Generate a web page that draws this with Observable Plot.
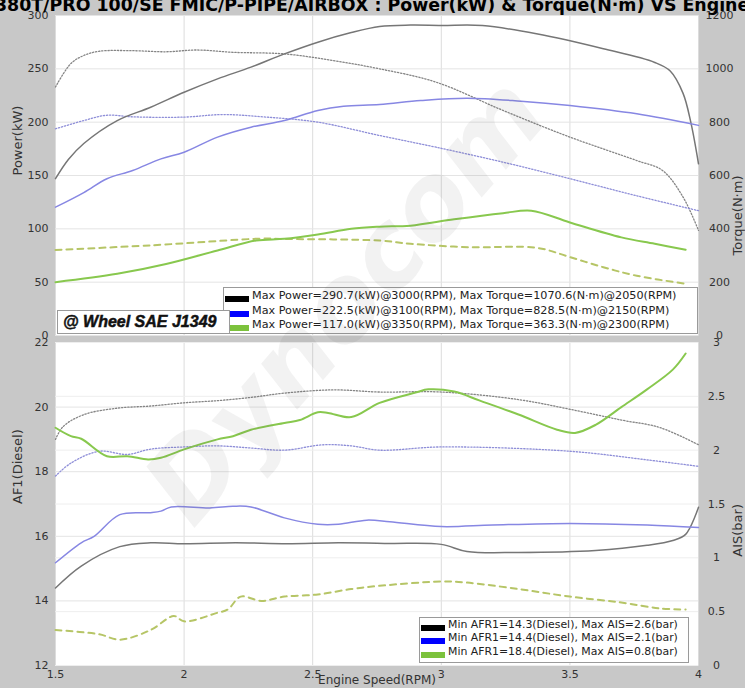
<!DOCTYPE html>
<html><head><meta charset="utf-8">
<script src="https://cdn.jsdelivr.net/npm/d3@7"></script>
<script src="https://cdn.jsdelivr.net/npm/@observablehq/plot@0.6"></script>
<style>
html,body{margin:0;padding:0;background:#c8c8c8;}
#wrap{position:relative;width:745px;height:688px;overflow:hidden;background:#c8c8c8;font-family:"DejaVu Sans",sans-serif;}
#title{position:absolute;left:-5px;top:-5px;white-space:nowrap;font-weight:bold;font-size:17.4px;line-height:20px;color:#000;}
#top{position:absolute;left:0;top:0;}
#bot{position:absolute;left:0;top:340px;}
.box{position:absolute;background:#fff;border:1px solid #9a9a9a;box-sizing:border-box;}
.row{position:absolute;white-space:nowrap;color:#222;}
.sw{position:absolute;}
#wm{position:absolute;left:345px;top:300px;transform:translate(-50%,-50%) rotate(-49deg);font-family:"DejaVu Sans";font-weight:bold;font-style:italic;font-size:105px;color:rgba(90,90,90,0.08);white-space:nowrap;pointer-events:none;}
</style></head>
<body>
<div id="wrap">
  <div id="top"></div>
  <div id="bot"></div>
  <div id="title"></div>
  <div id="wm">Dynocom</div>
</div>
<script>
// ---------- ticks ----------
const rpmTicks = [1.5, 2, 2.5, 3, 3.5, 4];
const powerTicks = [0, 50, 100, 150, 200, 250, 300];
const torqueTicks = [0, 200, 400, 600, 800, 1000, 1200];
const afrTicks = [12, 14, 16, 18, 20, 22];
const aisTicks = [0, 0.5, 1, 1.5, 2, 2.5, 3];

// ---------- texts ----------
const titleText = "380T/PRO 100/SE FMIC/P-PIPE/AIRBOX : Power(kW) & Torque(N·m) VS Engine Speed(RPM)";
const topLegend = [
  "Max Power=290.7(kW)@3000(RPM), Max Torque=1070.6(N·m)@2050(RPM)",
  "Max Power=222.5(kW)@3100(RPM), Max Torque=828.5(N·m)@2150(RPM)",
  "Max Power=117.0(kW)@3350(RPM), Max Torque=363.3(N·m)@2300(RPM)"
];
const botLegend = [
  "Min AFR1=14.3(Diesel), Max AIS=2.6(bar)",
  "Min AFR1=14.4(Diesel), Max AIS=2.1(bar)",
  "Min AFR1=18.4(Diesel), Max AIS=0.8(bar)"
];
const legendColors = ["#000000", "#0000ff", "#7cc23c"];
const stampText = "@ Wheel SAE J1349";

// ---------- top panel: power (kW) & torque (N·m), rpm in thousands ----------
const blkPowerRpm = [1.5,1.55,1.61,1.74,1.87,2.0,2.13,2.26,2.39,2.52,2.65,2.76,2.88,3.0,3.16,3.37,3.63,3.83,3.89,3.94,3.97,4.0];
const blkPowerKW  = [147,165,180,201.5,214,228,240.6,251.6,264,275,284,289.7,291,290.7,290.6,282.8,268.8,256,248,227,200,161];
const blkTorqueRpm = [1.5,1.56,1.61,1.67,1.8,1.93,2.05,2.19,2.39,2.58,2.76,2.98,3.24,3.5,3.76,3.86,3.94,4.0];
const blkTorqueNm  = [932,1020,1050,1066,1068,1064,1070.6,1062,1056,1031,1000,950,844,744,656,619,519,394];

const bluPowerRpm = [1.5,1.61,1.7,1.8,1.91,2.0,2.13,2.26,2.39,2.52,2.62,2.76,2.92,3.1,3.31,3.5,3.76,4.0];
const bluPowerKW  = [120.3,134,147,154.7,165.6,171.8,186,195.3,201.5,211,215,216.6,220.3,222.5,219.7,215.6,207.8,197];
const bluTorqueRpm = [1.5,1.61,1.7,1.8,2.0,2.15,2.32,2.52,2.76,2.98,3.24,3.5,3.76,4.0];
const bluTorqueNm  = [775,806,826,820,819,828.5,819,800,750,706,650,588,524,468];

const grnPowerRpm = [1.5,1.74,1.93,2.13,2.28,2.39,2.52,2.65,2.76,2.88,3.05,3.24,3.35,3.5,3.7,3.83,3.95];
const grnPowerKW  = [50,57.8,67,79.7,89,90.6,94.7,100,102,103,109,114.7,117,106,92,86,80.3];
const grnTorqueRpm = [1.5,1.87,2.3,2.39,2.76,2.88,3.11,3.37,3.5,3.63,3.76,3.95];
const grnTorqueNm  = [321,338,363.3,362,356,344,331,329,294,256,224,194];

// ---------- bottom panel: AFR (Diesel) & AIS (bar) ----------
const blkAfrRpm = [1.5,1.6,1.75,1.87,2.0,2.2,2.4,2.6,2.8,3.0,3.1,3.3,3.6,3.8,3.9,3.95,4.0];
const blkAfr    = [14.4,15.08,15.68,15.8,15.77,15.8,15.77,15.8,15.78,15.75,15.53,15.5,15.56,15.72,15.87,16.06,16.9];
const bluAfrRpm = [1.5,1.6,1.65,1.75,1.87,1.91,1.95,2.1,2.19,2.26,2.39,2.52,2.6,2.71,2.8,3.0,3.2,3.5,3.8,4.0];
const bluAfr    = [15.18,15.8,16.0,16.67,16.73,16.78,16.91,16.88,16.93,16.91,16.57,16.37,16.37,16.5,16.45,16.3,16.35,16.4,16.35,16.27];
const grnAfrRpm = [1.5,1.56,1.6,1.7,1.78,1.86,1.91,2.0,2.13,2.19,2.26,2.39,2.45,2.52,2.56,2.65,2.76,2.9,2.95,3.05,3.15,3.3,3.45,3.52,3.6,3.7,3.8,3.9,3.95];
const grnAfr    = [19.36,19.1,19.02,18.48,18.48,18.38,18.43,18.69,19.0,19.1,19.3,19.51,19.6,19.84,19.82,19.69,20.13,20.45,20.55,20.48,20.2,19.77,19.3,19.2,19.45,20.0,20.55,21.16,21.66];

const blkAisRpm = [1.5,1.53,1.61,1.74,1.87,2.0,2.13,2.26,2.39,2.58,2.76,3.0,3.3,3.5,3.7,3.85,4.0];
const blkAis    = [2.10,2.22,2.33,2.39,2.41,2.44,2.46,2.49,2.53,2.56,2.54,2.54,2.47,2.38,2.28,2.21,2.05];
const bluAisRpm = [1.5,1.56,1.67,1.78,1.87,2.0,2.13,2.26,2.39,2.54,2.65,2.76,3.0,3.5,3.8,4.0];
const bluAis    = [1.76,1.88,1.99,1.96,2.01,2.03,2.04,2.02,2.0,2.05,2.04,2.0,2.03,1.99,1.91,1.85];
const grnAisRpm = [1.5,1.67,1.75,1.87,1.96,2.0,2.13,2.17,2.22,2.3,2.39,2.52,2.65,2.76,3.0,3.1,3.3,3.5,3.7,3.85,3.95];
const grnAis    = [0.33,0.29,0.24,0.33,0.46,0.41,0.49,0.52,0.64,0.60,0.64,0.66,0.71,0.74,0.78,0.77,0.71,0.64,0.585,0.53,0.52];

// ---------- helpers ----------
const pts = (xs, ys, f = v => v) => xs.map((x, i) => ({x, y: f(ys[i])}));
const tq = v => v / 4;                  // torque -> power-axis position (1200 N·m == 300 kW)
const afrOf = a => 12 + a * 10 / 3;     // AIS bar -> AFR-axis position (3 bar == 22)
const C = {
  blk: "#767676", blkD: "#858585",
  blu: "#8787e3", bluD: "#8e8ed8",
  grn: "#88c84e", grnD: "#b6c566"
};
const solid = (data, stroke, w = 1.5) => Plot.line(data, {x: "x", y: "y", stroke, strokeWidth: w, curve: "catmull-rom"});
const dotted = (data, stroke) => Plot.line(data, {x: "x", y: "y", stroke, strokeWidth: 1.3, strokeDasharray: "1.3,1.8", curve: "catmull-rom"});
const dashed = (data, stroke) => Plot.line(data, {x: "x", y: "y", stroke, strokeWidth: 2, strokeDasharray: "6,5", curve: "catmull-rom"});
const baseStyle = {background: "transparent", fontFamily: "DejaVu Sans", fontSize: "11px", color: "#333", overflow: "visible"};

// ---------- top plot ----------
const topPlot = Plot.plot({
  width: 745, height: 340,
  marginLeft: 55, marginRight: 47, marginTop: 15, marginBottom: 5,
  style: baseStyle,
  x: {domain: [1.5, 4], axis: null},
  y: {domain: [0, 300], axis: null},
  marks: [
    Plot.frame({fill: "#fff", stroke: null}),
    Plot.gridX(rpmTicks, {stroke: "#dcdcdc", strokeOpacity: 1}),
    Plot.gridY(powerTicks, {stroke: "#e4e4e4", strokeOpacity: 1}),
    dotted(pts(blkTorqueRpm, blkTorqueNm, tq), C.blkD),
    dotted(pts(bluTorqueRpm, bluTorqueNm, tq), C.bluD),
    dashed(pts(grnTorqueRpm, grnTorqueNm, tq), C.grnD),
    solid(pts(blkPowerRpm, blkPowerKW), C.blk),
    solid(pts(bluPowerRpm, bluPowerKW), C.blu),
    solid(pts(grnPowerRpm, grnPowerKW), C.grn, 2),
    Plot.axisY(powerTicks, {anchor: "left", tickSize: 0, tickPadding: 7, label: null}),
    Plot.axisY(torqueTicks.map(tq), {anchor: "right", tickSize: 0, tickPadding: 21, textAnchor: "middle", label: null, tickFormat: d => String(Math.round(d * 4))}),
    Plot.text(["Power(kW)"], {text: d => d, frameAnchor: "left", dx: -38, rotate: -90, fontSize: 13, fill: "#333"}),
    Plot.text(["Torque(N·m)"], {text: d => d, frameAnchor: "right", dx: 39, rotate: -90, fontSize: 13, fill: "#333"})
  ]
});
document.getElementById("top").appendChild(topPlot);

// ---------- bottom plot ----------
const botPlot = Plot.plot({
  width: 745, height: 348,
  marginLeft: 55, marginRight: 47, marginTop: 2, marginBottom: 23,
  style: baseStyle,
  x: {domain: [1.5, 4], axis: null},
  y: {domain: [12, 22], axis: null},
  marks: [
    Plot.frame({fill: "#fff", stroke: null}),
    Plot.gridX(rpmTicks, {stroke: "#dcdcdc", strokeOpacity: 1}),
    Plot.gridY(afrTicks, {stroke: "#e4e4e4", strokeOpacity: 1}),
    Plot.gridY(aisTicks.map(afrOf), {stroke: "#eeeeee", strokeOpacity: 1}),
    dotted(pts(blkAisRpm, blkAis, afrOf), C.blkD),
    dotted(pts(bluAisRpm, bluAis, afrOf), C.bluD),
    dashed(pts(grnAisRpm, grnAis, afrOf), C.grnD),
    solid(pts(blkAfrRpm, blkAfr), C.blk),
    solid(pts(bluAfrRpm, bluAfr), C.blu),
    solid(pts(grnAfrRpm, grnAfr), C.grn, 2),
    Plot.axisY(afrTicks, {anchor: "left", tickSize: 0, tickPadding: 7, label: null}),
    Plot.axisY(aisTicks.map(afrOf), {anchor: "right", tickSize: 0, tickPadding: 18, textAnchor: "middle", label: null, tickFormat: d => String(Math.round((d - 12) * 3) / 10)}),
    Plot.axisX(rpmTicks, {anchor: "bottom", tickSize: 0, tickPadding: 5, label: null, tickFormat: d => String(d)}),
    Plot.text(["AF1(Diesel)"], {text: d => d, frameAnchor: "left", dx: -38, rotate: -90, fontSize: 13, fill: "#333"}),
    Plot.text(["AIS(bar)"], {text: d => d, frameAnchor: "right", dx: 39, rotate: -90, fontSize: 13, fill: "#333"}),
    Plot.text(["Engine Speed(RPM)"], {text: d => d, frameAnchor: "bottom", dy: 18, fontSize: 12, fill: "#333"})
  ]
});
document.getElementById("bot").appendChild(botPlot);

// ---------- title & legends (HTML) ----------
const wrap = document.getElementById("wrap");
document.getElementById("title").textContent = titleText;

function makeBox(left, top, w, h) {
  const b = document.createElement("div");
  b.className = "box";
  Object.assign(b.style, {left: left + "px", top: top + "px", width: w + "px", height: h + "px"});
  wrap.appendChild(b);
  return b;
}
function legend(lines, box, rowTop, rowStep, swX, swW, txtX, fs) {
  lines.forEach((t, i) => {
    const sw = document.createElement("div");
    sw.className = "sw";
    Object.assign(sw.style, {left: swX + "px", top: (rowTop + i * rowStep + 2) + "px", width: swW + "px", height: "6px", background: legendColors[i]});
    box.appendChild(sw);
    const r = document.createElement("div");
    r.className = "row";
    r.textContent = t;
    Object.assign(r.style, {left: txtX + "px", top: (rowTop + i * rowStep - 5) + "px", fontSize: fs + "px", lineHeight: "14px"});
    box.appendChild(r);
  });
}
const tb = makeBox(223, 287, 475, 47);
legend(topLegend, tb, 6, 14.5, 1, 24, 28, 11.2);
const bb = makeBox(419, 617, 270, 46);
legend(botLegend, bb, 5, 13.4, 1, 24, 28, 10.9);

const st = makeBox(57, 310, 173, 24);
const stt = document.createElement("div");
stt.textContent = stampText;
Object.assign(stt.style, {position: "absolute", left: "5px", top: "2px", fontFamily: "'Liberation Sans', Arial, sans-serif", fontWeight: "bold", fontStyle: "italic", fontSize: "16px", lineHeight: "18px", color: "#111", whiteSpace: "nowrap", WebkitTextStroke: "0.5px #111"});
st.appendChild(stt);
wrap.appendChild(document.getElementById("wm"));
</script>
</body></html>
